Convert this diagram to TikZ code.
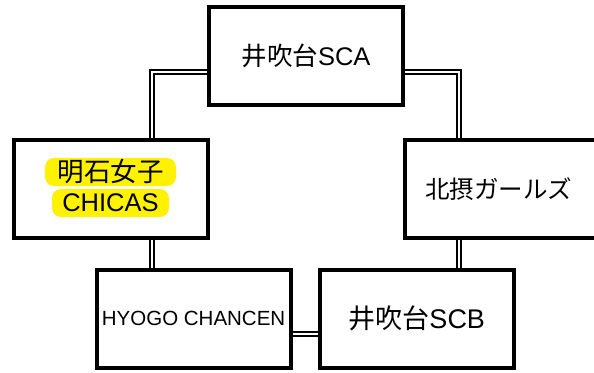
\documentclass[tikz,border=0pt]{standalone}
\usepackage{fontspec}
\setmainfont{Liberation Sans}
\newfontfamily\jp{Noto Sans CJK JP}
\usepackage{tikz}
\newcommand{\fsz}[1]{\fontsize{#1}{#1}\selectfont}

\begin{document}
\begin{tikzpicture}[x=1pt, y=-1pt,
  team/.style={draw, line width=4pt, minimum width=194pt, minimum height=98pt, inner sep=0pt},
  hilite/.style={fill=yellow, rounded corners=9pt, minimum height=28pt, inner sep=0pt},
  link/.style={double, line width=2pt, double distance=2pt}]
\useasboundingbox (0,0) rectangle (594,372);
\node[team, font=\fsz{25.5}] (A) at (306,55.75) {{\jp 井吹台}SCA};
\node[team] (B) at (111,188.75) {};
\node[team, font=\fsz{24.5}] (C) at (502,189.25) {\jp 北摂ガールズ\hspace*{7pt}};
\node[team, font=\fsz{20.5}] (D) at (193.6,318.75) {HYOGO CHANCEN};
\node[team, font=\fsz{27}] (E) at (416.75,318.75) {{\jp 井吹台}SCB};
\node[hilite, minimum width=131pt, font=\fsz{26.5}] (B1) at (110.5,172) {\jp 明石女子};
\node[hilite, minimum width=117pt, font=\fsz{25.5}] (B2) at (110.5,203) {CHICAS};
\draw[link] ([yshift=-16.5pt]A.west) -| ([xshift=40.6pt]B.north);
\draw[link] ([yshift=-16.5pt]A.east) -| ([xshift=-43pt]C.north);
\draw[link] ([xshift=41pt]B.south) -- ([xshift=41pt]B.south |- D.north);
\draw[link] ([xshift=-43pt]C.south) -- ([xshift=-43pt]C.south |- E.north);
\draw[link] ([yshift=-14.75pt]D.east) -- ([yshift=-14.75pt]D.east -| E.west);
\end{tikzpicture}
\end{document}
